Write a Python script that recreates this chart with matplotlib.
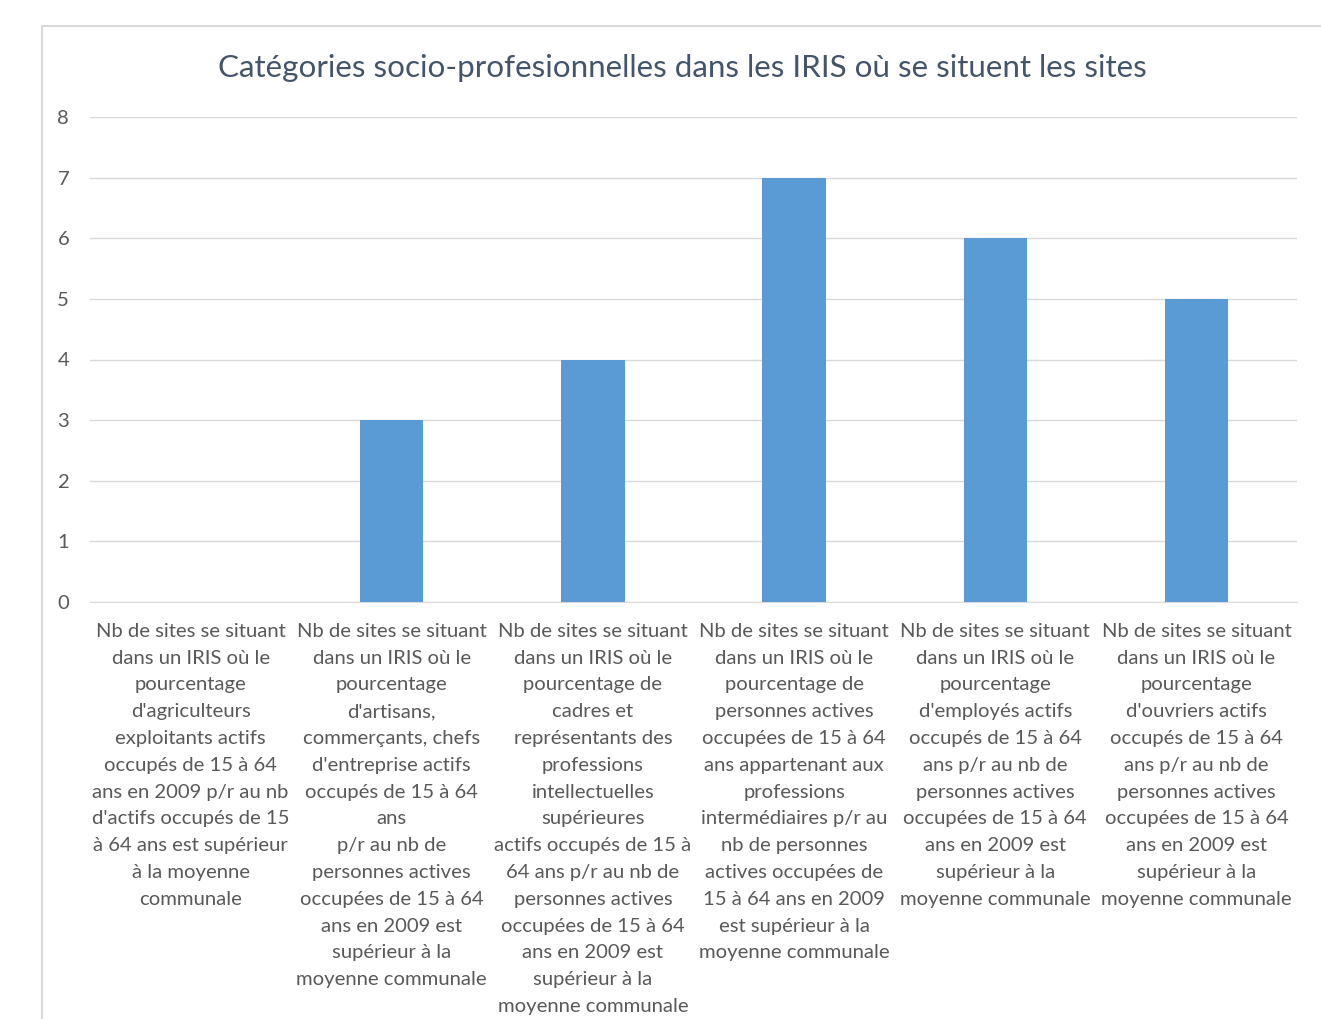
import numpy as np
import matplotlib as mpl
import matplotlib.pyplot as plt
from matplotlib.patches import Rectangle

mpl.rcParams['font.family'] = ['Lato', 'DejaVu Sans']

title = 'Catégories socio-profesionnelles dans les IRIS où se situent les sites'

categories = [
  "Nb de sites se situant\ndans un IRIS où le\npourcentage\nd'agriculteurs\nexploitants actifs\noccupés de 15 à 64\nans en 2009 p/r au nb\nd'actifs occupés de 15\nà 64 ans est supérieur\nà la moyenne\ncommunale",
  "Nb de sites se situant\ndans un IRIS où le\npourcentage\nd'artisans,\ncommerçants, chefs\nd'entreprise actifs\noccupés de 15 à 64\nans\np/r au nb de\npersonnes actives\noccupées de 15 à 64\nans en 2009 est\nsupérieur à la\nmoyenne communale",
  "Nb de sites se situant\ndans un IRIS où le\npourcentage de\ncadres et\nreprésentants des\nprofessions\nintellectuelles\nsupérieures\nactifs occupés de 15 à\n64 ans p/r au nb de\npersonnes actives\noccupées de 15 à 64\nans en 2009 est\nsupérieur à la\nmoyenne communale",
  "Nb de sites se situant\ndans un IRIS où le\npourcentage de\npersonnes actives\noccupées de 15 à 64\nans appartenant aux\nprofessions\nintermédiaires p/r au\nnb de personnes\nactives occupées de\n15 à 64 ans en 2009\nest supérieur à la\nmoyenne communale",
  "Nb de sites se situant\ndans un IRIS où le\npourcentage\nd'employés actifs\noccupés de 15 à 64\nans p/r au nb de\npersonnes actives\noccupées de 15 à 64\nans en 2009 est\nsupérieur à la\nmoyenne communale",
  "Nb de sites se situant\ndans un IRIS où le\npourcentage\nd'ouvriers actifs\noccupés de 15 à 64\nans p/r au nb de\npersonnes actives\noccupées de 15 à 64\nans en 2009 est\nsupérieur à la\nmoyenne communale",
]
values = [0, 3, 4, 7, 6, 5]
yticks = [0, 1, 2, 3, 4, 5, 6, 7, 8]

bar_color = '#5B9BD5'
text_color = '#595959'
grid_color = '#D9D9D9'

fig = plt.figure(figsize=(13.21, 10.19), dpi=100)

# chart area border (only top/left visible, rest is cropped)
fig.patches.append(Rectangle((42/1321, -0.1), 1.2, 1 - 26/1019 + 0.1,
                             transform=fig.transFigure, fill=False,
                             edgecolor=grid_color, linewidth=1.5))

ax = fig.add_axes([90/1321, 1 - 602/1019, (1297 - 90)/1321, (602 - 117)/1019])
x = np.arange(len(values))
ax.bar(x, values, width=0.315, color=bar_color, zorder=3)

ax.set_xlim(-0.5, len(values) - 0.5)
ax.set_ylim(0, 8)
ax.set_yticks(yticks)
ax.yaxis.grid(True, color=grid_color, linewidth=1)
ax.set_axisbelow(True)
for s in ['top', 'right', 'left']:
  ax.spines[s].set_visible(False)
ax.spines['bottom'].set_color(grid_color)
ax.tick_params(axis='both', length=0, colors=text_color, labelsize=14.6)
ax.tick_params(axis='y', pad=15)
ax.tick_params(axis='x', pad=15)
ax.set_xticks(x)
ax.set_xticklabels(categories, ha='center', va='top', linespacing=1.70,
                   fontsize=14.6, color=text_color)

fig.text(682/1321, 1 - 68/1019, title, ha='center', va='center',
         fontsize=22.6, color='#44546A')

plt.savefig('out.png', dpi=100)
